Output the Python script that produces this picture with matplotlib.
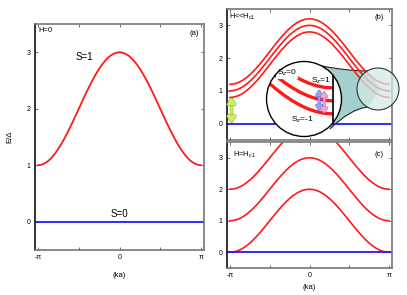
import numpy as np
import matplotlib
matplotlib.use("Agg")
import matplotlib.pyplot as plt
from matplotlib.patches import Circle, PathPatch
from matplotlib.path import Path
import matplotlib.patheffects as pe

plt.rcParams['font.family'] = ['Liberation Sans', 'DejaVu Sans']
plt.rcParams['mathtext.fontset'] = 'custom'
plt.rcParams['mathtext.rm'] = 'Liberation Sans'
plt.rcParams['mathtext.it'] = 'Liberation Sans:italic'

# band E/Delta, from k=-pi to k=0 in steps of pi/24
band_half = [1.000, 1.009, 1.034, 1.076, 1.134, 1.207, 1.293, 1.391, 1.500,
             1.617, 1.741, 1.869, 2.000, 2.131, 2.259, 2.383, 2.500, 2.609,
             2.707, 2.793, 2.866, 2.924, 2.966, 2.991, 3.000]
band = np.array(band_half + band_half[-2::-1])
k = np.linspace(-np.pi, np.pi, len(band))

# Zeeman shifts of the triplet (S_z = 1, 0, -1)
shift_b = [0.2, 0.0, -0.2]
shift_c = [1.0, 0.0, -1.0]
gap_b = 0.8          # arrow in (b): gap to the lowest branch
singlet = 0.0

RED = '#ff1a1a'
BLUE = '#1a1aff'
W, H = 407, 295

fig = plt.figure(figsize=(W / 100, H / 100), dpi=100)


def px(x, y):
    # pixel (from top-left) -> inches for dpi_scale_trans
    return (x / 100, (H - y) / 100)


def frame(ax):
    ax.set_xlim(-3.26, 3.26)
    ax.set_ylim(-0.5, 3.5)
    ax.set_xticks([-np.pi, 0, np.pi])
    ax.set_xticks([-np.pi / 2, np.pi / 2], minor=True)
    ax.set_yticks([0, 1, 2, 3])
    ax.tick_params(which='both', direction='in', top=True, right=True,
                   labelsize=5, pad=3, length=2.2, width=0.6, color='#555555')
    for s in ax.spines.values():
        s.set_color('#777777')
        s.set_linewidth(1.2)
    ax.spines['left'].set_color('#111111')


def double_arrow(ax, x, y0, y1, fc, ec, lw, ms):
    an = ax.annotate('', xy=(x, y0), xytext=(x, y1),
                     arrowprops=dict(arrowstyle='<|-|>,head_length=0.45,head_width=0.3',
                                     color=fc, lw=lw, shrinkA=0, shrinkB=0,
                                     mutation_scale=ms), zorder=5)
    an.arrow_patch.set_path_effects([pe.Stroke(linewidth=lw + 0.8, foreground=ec), pe.Normal()])


# ---- panel (a)
axa = fig.add_axes([35 / W, 1 - 250 / H, 169 / W, 226 / H])
frame(axa)
axa.plot(k, band, color=RED, lw=1.3)
axa.axhline(singlet, color=BLUE, lw=1.3)
axa.set_xticklabels(['-π', '0', 'π'])
axa.set_xlabel('(ka)', fontsize=5.5)
axa.xaxis.set_label_coords(0.5, -0.097)
axa.set_ylabel('E/Δ', fontsize=5.5)
axa.yaxis.set_label_coords(-0.13, 0.5)
axa.text(0.02, 0.985, 'H=0', transform=axa.transAxes, fontsize=5.5, va='top')
axa.text(0.97, 0.975, '(a)', transform=axa.transAxes, fontsize=5.5, va='top', ha='right')
axa.text(-1.35, 2.91, 'S=1', fontsize=7, ha='center', va='center')
axa.text(0, 0.05, 'S=0', fontsize=7, ha='center', va='bottom')

# ---- panel (b)
axb = fig.add_axes([227 / W, 1 - 140 / H, 165 / W, 131 / H])
frame(axb)
axb.set_xticklabels([])
for s in shift_b:
    axb.plot(k, band + s, color=RED, lw=1.2, zorder=2)
axb.axhline(singlet, color=BLUE, lw=1.3, zorder=2)
axb.text(0.015, 0.975, 'H<<H$_{\\mathrm{c1}}$', transform=axb.transAxes, fontsize=5.5, va='top')
axb.text(0.95, 0.965, '(b)', transform=axb.transAxes, fontsize=5.5, va='top', ha='right')
double_arrow(axb, -3.08, singlet + 0.02, gap_b, '#d4f060', '#86ad2a', 1.6, 8)

tr = fig.dpi_scale_trans
# funnel between magnifier circles
top_edge = [px(322, 66), px(348, 71), px(368, 71)]
bot_edge = [px(368, 107), px(350, 109), px(330, 129)]
funnel = Path([px(304, 99)] + top_edge + [px(380, 89)] + bot_edge + [px(304, 99)],
              [Path.MOVETO, Path.LINETO, Path.CURVE3, Path.CURVE3, Path.LINETO,
               Path.LINETO, Path.CURVE3, Path.CURVE3, Path.CLOSEPOLY])
axb.add_patch(PathPatch(funnel, transform=tr, facecolor='#a3cfcc', edgecolor='none',
                        zorder=1, clip_on=False))
for pts in (top_edge, bot_edge):
    edge = Path(pts, [Path.MOVETO, Path.CURVE3, Path.CURVE3])
    axb.add_patch(PathPatch(edge, transform=tr, facecolor='none', edgecolor='#222222',
                            lw=0.8, zorder=1.5, clip_on=False))
axb.add_patch(Circle(px(378, 89), 0.21, transform=tr, facecolor='#d3e9e9', alpha=0.75,
                     edgecolor='none', zorder=3, clip_on=False))
axb.add_patch(Circle(px(378, 89), 0.21, transform=tr, facecolor='none',
                     edgecolor='#333333', lw=0.8, zorder=3.1, clip_on=False))

# ---- magnified view near k = pi
axz = fig.add_axes([267 / W, 1 - 136 / H, 74 / W, 74 / H])
axz.set_axis_off()
axz.set_xlim(np.pi - 1.05, np.pi + 0.127)
axz.set_ylim(0.46, 1.6)
big = Circle(px(304, 99), 0.375, transform=tr, facecolor='white', edgecolor='none',
             zorder=0, clip_on=False)
axz.add_patch(big)
for s in shift_b:
    ln, = axz.plot(k, band + s, color=RED, lw=2.4, zorder=2, solid_capstyle='butt')
    ln.set_clip_path(big)
vl, = axz.plot([np.pi, np.pi], [0.3, 1.8], color='black', lw=1.2, zorder=3)
vl.set_clip_path(big)
axz.add_patch(Circle(px(304, 99), 0.375, transform=tr, facecolor='none',
                     edgecolor='black', lw=1.0, zorder=6, clip_on=False))
box = dict(facecolor='white', edgecolor='none', pad=0.5)
axz.text(2.41, 1.43, 'S$_z$=0', fontsize=6, ha='center', va='center', zorder=4, bbox=box)
axz.text(2.95, 1.31, 'S$_z$=1', fontsize=6, ha='center', va='center', zorder=4)
axz.text(2.65, 0.71, 'S$_z$=-1', fontsize=6, ha='center', va='center', zorder=4)
double_arrow(axz, np.pi - 0.22, 0.85, 1.17, '#98a4f2', '#6470d2', 1.4, 6)
double_arrow(axz, np.pi - 0.14, 0.81, 1.15, '#f2a4d8', '#c474b2', 1.4, 6)

# ---- panel (c)
axc = fig.add_axes([227 / W, 1 - 268 / H, 165 / W, 126 / H])
frame(axc)
for s in shift_c:
    axc.plot(k, band + s, color=RED, lw=1.2)
axc.axhline(singlet, color=BLUE, lw=1.3)
axc.set_xticklabels(['-π', '0', 'π'])
axc.set_xlabel('(ka)', fontsize=5.5)
axc.xaxis.set_label_coords(0.5, -0.127)
axc.text(0.035, 0.9, 'H=H$_{\\mathrm{c1}}$', transform=axc.transAxes, fontsize=5.5, va='center')
axc.text(0.95, 0.9, '(c)', transform=axc.transAxes, fontsize=5.5, va='center', ha='right')

fig.savefig('out.png', dpi=100)
